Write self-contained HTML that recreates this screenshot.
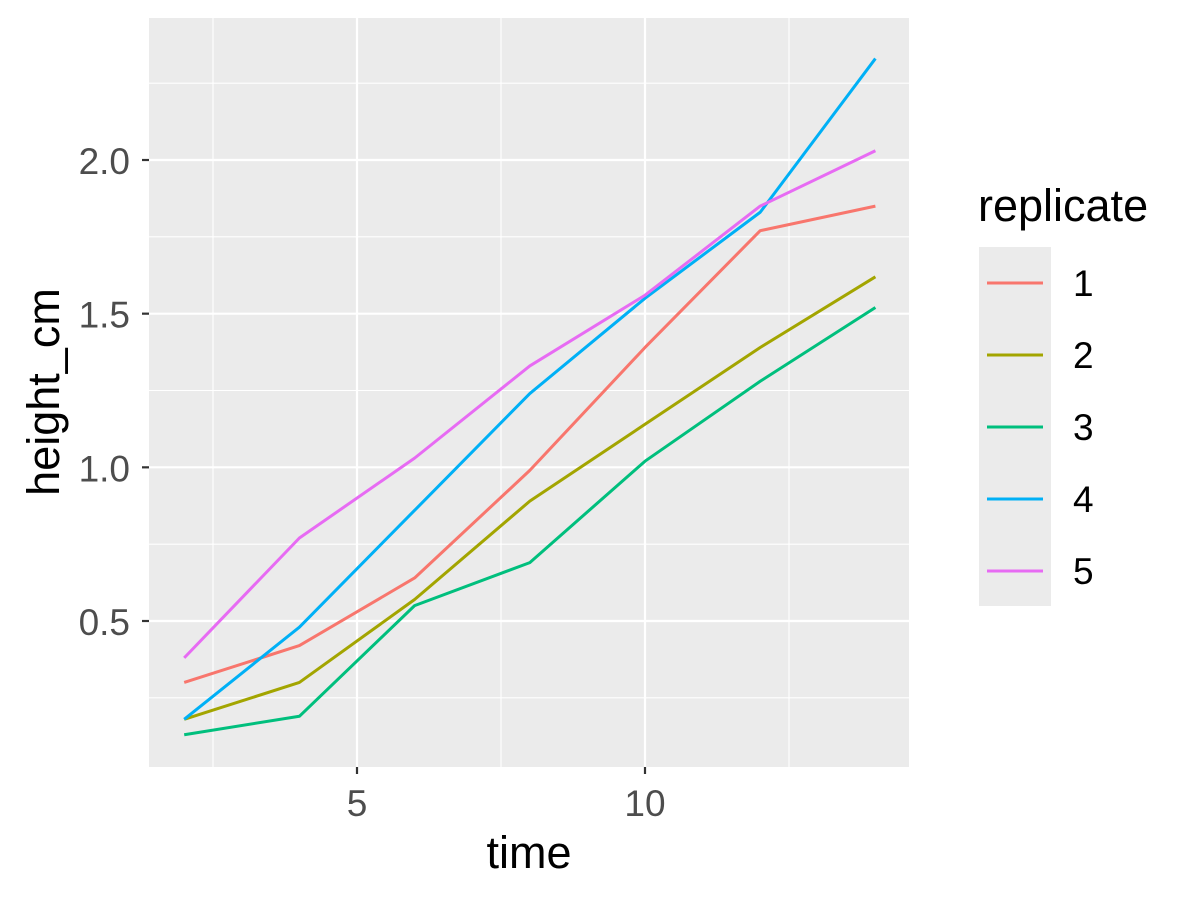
<!DOCTYPE html>
<html><head><meta charset="utf-8"><style>
body{margin:0;background:#fff;}
svg{display:block;font-family:"Liberation Sans",Arial,sans-serif;}
</style></head><body>
<svg id="c" width="1200" height="900"></svg>
<script>
const times=[2,4,6,8,10,12,14];
const rep1=[0.30,0.42,0.64,0.99,1.39,1.77,1.85];
const rep2=[0.18,0.30,0.57,0.89,1.14,1.39,1.62];
const rep3=[0.13,0.19,0.55,0.69,1.02,1.28,1.52];
const rep4=[0.18,0.48,0.86,1.24,1.55,1.83,2.33];
const rep5=[0.38,0.77,1.03,1.33,1.56,1.85,2.03];
const seriesNames=["1","2","3","4","5"];
const xTicks=[5,10];
const xMinor=[2.5,7.5,12.5];
const yTicks=[0.5,1.0,1.5,2.0];
const yMinor=[0.25,0.75,1.25,1.75,2.25];

const series=[rep1,rep2,rep3,rep4,rep5];
const colors=["#F8766D","#A3A500","#00BF7D","#00B0F6","#E76BF3"];
const P={l:149,r:909,t:18,b:767};
const X=v=>357+(v-5)*57.6;
const Y=v=>621-(v-0.5)*307.33;
const svg=document.getElementById('c');
const NS="http://www.w3.org/2000/svg";
function el(tag,attrs,parent){const e=document.createElementNS(NS,tag);for(const k in attrs)e.setAttribute(k,attrs[k]);(parent||svg).appendChild(e);return e;}

const bg=el('rect',{x:P.l,y:P.t,width:P.r-P.l,height:P.b-P.t,fill:'#EBEBEB'});


xMinor.forEach(v=>{const g=el('line',{x1:X(v),x2:X(v),y1:P.t,y2:P.b,stroke:'#fff','stroke-width':1.1});

});
yMinor.forEach(v=>{const g=el('line',{x1:P.l,x2:P.r,y1:Y(v),y2:Y(v),stroke:'#fff','stroke-width':1.1});

});
xTicks.forEach(v=>{const g=el('line',{x1:X(v),x2:X(v),y1:P.t,y2:P.b,stroke:'#fff','stroke-width':2.2});


const t=el('line',{x1:X(v),x2:X(v),y1:P.b,y2:P.b+7,stroke:'#333','stroke-width':2.2});


const l=el('text',{x:X(v),y:816,'text-anchor':'middle','font-size':37,fill:'#4D4D4D'});l.textContent=v;

});
yTicks.forEach(v=>{const g=el('line',{x1:P.l,x2:P.r,y1:Y(v),y2:Y(v),stroke:'#fff','stroke-width':2.2});


const t=el('line',{x1:P.l-7,x2:P.l,y1:Y(v),y2:Y(v),stroke:'#333','stroke-width':2.2});


const l=el('text',{x:130,y:Y(v)+14,'text-anchor':'end','font-size':37,fill:'#4D4D4D'});l.textContent=v.toFixed(1);

});

series.forEach((s,i)=>{const p=el('polyline',{points:s.map((v,j)=>X(times[j])+','+Y(v)).join(' '),fill:'none',stroke:colors[i],'stroke-width':3,'stroke-linejoin':'round'});

});

const xt=el('text',{x:529,y:868,'text-anchor':'middle','font-size':45,fill:'#000'});xt.textContent='time';


const yt=el('text',{x:0,y:0,'text-anchor':'middle','font-size':45,fill:'#000',transform:'translate(59,392) rotate(-90)'});yt.textContent='height_cm';



const lt=el('text',{x:978,y:221,'font-size':45,fill:'#000'});lt.textContent='replicate';


const lb=el('rect',{x:979,y:247,width:72,height:359,fill:'#EBEBEB'});


seriesNames.forEach((n,i)=>{const cy=283+i*72;
const k=el('line',{x1:987,x2:1043,y1:cy,y2:cy,stroke:colors[i],'stroke-width':3});


const t=el('text',{x:1073,y:cy+13,'font-size':37,fill:'#000'});t.textContent=n;

});
</script>
</body></html>
